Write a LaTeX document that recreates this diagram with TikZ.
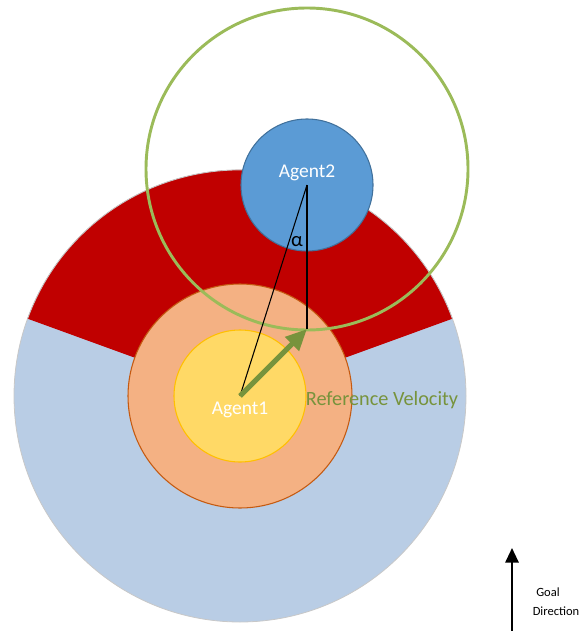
\documentclass[tikz,border=0pt]{standalone}
\usepackage{fontspec}
\setmainfont{Carlito}
\usetikzlibrary{arrows.meta}
\definecolor{bigblue}{HTML}{B9CDE5}
\definecolor{bigline}{HTML}{C8C8C8}
\definecolor{redsec}{HTML}{C00000}
\definecolor{orangefill}{HTML}{F4B183}
\definecolor{orangeline}{HTML}{C55A11}
\definecolor{yellowfill}{HTML}{FFD966}
\definecolor{yellowline}{HTML}{FFC000}
\definecolor{agblue}{HTML}{5B9BD5}
\definecolor{agblueline}{HTML}{41719C}
\definecolor{ringgreen}{HTML}{9BBB59}
\definecolor{velgreen}{HTML}{77933C}
\begin{document}
\begin{tikzpicture}[x=0.75pt,y=-0.75pt,
  disc/.style={circle,inner sep=0pt,outer sep=0pt},
  agentlabel/.style={text=white,font=\fontsize{14.6}{17}\selectfont,inner sep=0pt},
  thinline/.style={black,line width=0.8pt},
  goaltext/.style={font=\fontsize{9.4}{11}\selectfont,inner sep=0pt}]
\useasboundingbox (0,0) rectangle (588,631);
% big zone
\node[disc,fill=bigblue,draw=bigline,line width=0.6pt,minimum size=339pt] (big) at (240,396) {};
\fill[redsec] (big.center) -- (big.20) arc[start angle=20,end angle=160,radius=169.5pt] -- cycle;
\draw[bigline,line width=0.6pt] (big.20) arc[start angle=20,end angle=160,radius=169.5pt];
% orange zone
\node[disc,fill=orangefill,draw=orangeline,line width=0.8pt,minimum size=168pt] (orange) at (240,396) {};
% agent 1
\node[disc,fill=yellowfill,draw=yellowline,line width=0.8pt,minimum size=99pt] (a1) at (240,396) {};
% agent 2
\node[disc,fill=agblue,draw=agblueline,line width=0.8pt,minimum size=99pt] (a2) at (307,185) {};
% green ring
\node[disc,draw=ringgreen,line width=2.2pt,minimum size=241.5pt] (ring) at (307,169) {};
% lines
\coordinate (vtip) at (307,329);
\draw[thinline] (a1.center) -- (a2.center);
\draw[thinline] (a2.center) -- (vtip);
\draw[velgreen,line width=3.8pt,-{Triangle[length=16pt,width=14pt]}] (a1.center) -- (vtip);
% labels
\node[agentlabel] (l2) at (307,173) {Agent2};
\node[agentlabel] (l1) at (240,410) {Agent1};
\node[font=\fontsize{15.5}{17}\selectfont,inner sep=0pt] (alpha) at (297,242) {α};
\node[text=velgreen,font=\fontsize{15.2}{17}\selectfont,inner sep=0pt] (rv) at (382,400) {Reference Velocity};
% goal direction
\coordinate (gs) at (512,631);
\coordinate (ge) at (512,548);
\draw[black,line width=1.5pt,-{Triangle[length=11pt,width=10pt]}] (gs) -- (ge);
\node[goaltext] (goal) at (548,592) {Goal};
\node[goaltext] (dir) at (556,611) {Direction};
\end{tikzpicture}
\end{document}
